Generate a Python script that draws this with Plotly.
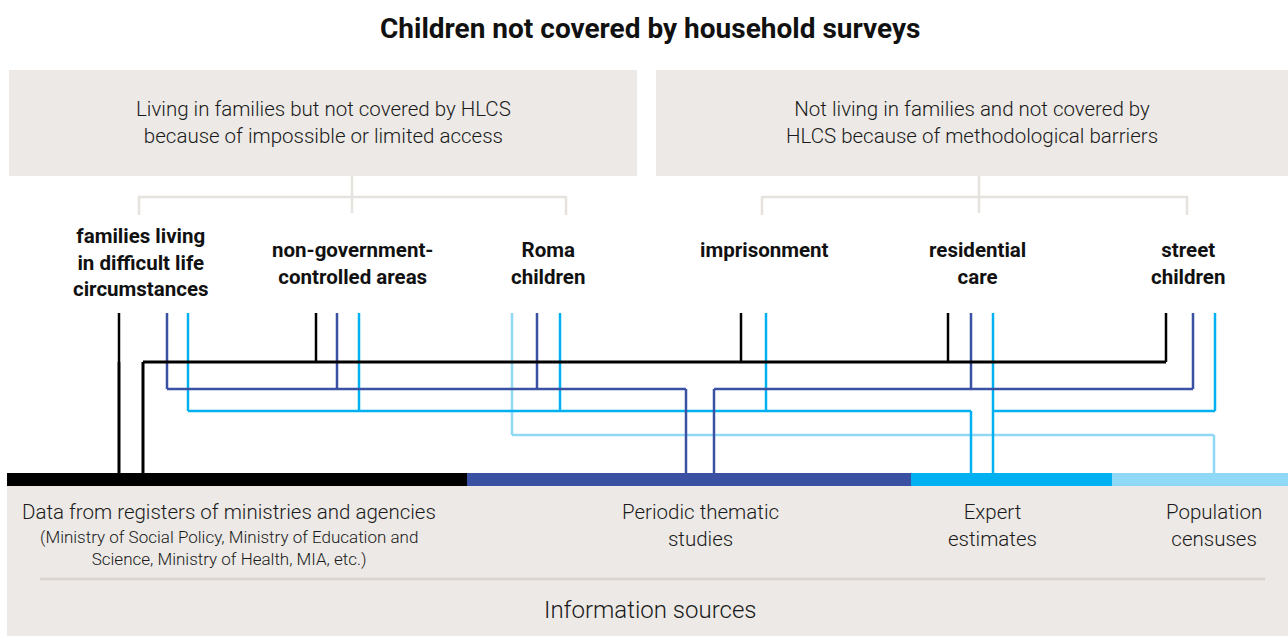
import plotly.graph_objects as go

# ---------------- data ----------------
title = "Children not covered by household surveys"
group_labels = [
    "Living in families but not covered by HLCS<br>because of impossible or limited access",
    "Not living in families and not covered by<br>HLCS because of methodological barriers",
]
categories = [
    "families living<br>in difficult life<br>circumstances",
    "non-government-<br>controlled areas",
    "Roma<br>children",
    "imprisonment",
    "residential<br>care",
    "street<br>children",
]
category_group = [0, 0, 0, 1, 1, 1]
sources = [
    "Data from registers of ministries and agencies",
    "Periodic thematic<br>studies",
    "Expert<br>estimates",
    "Population<br>censuses",
]
source_note = "(Ministry of Social Policy, Ministry of Education and<br>Science, Ministry of Health, MIA, etc.)"
footer = "Information sources"
# which information sources cover each category
links = {0: [0, 1, 2], 1: [0, 1, 2], 2: [3, 1, 2], 3: [0, 2], 4: [0, 1, 2], 5: [0, 1, 2]}
# bundles: (source, categories routed together)
bundles = [(0, [0]), (0, [1, 3, 4, 5]), (1, [0, 1, 2]), (1, [4, 5]),
           (2, [0, 1, 2, 3]), (2, [4, 5]), (3, [2])]

# ---------------- layout config (positions & styles) ----------------
W, H = 1288, 636
src_colors = ["#000000", "#3a50a2", "#00b0f0", "#8fd8f6"]
box_fill = "#ece9e6"
bracket_col = "#e6e2de"
txt = "#1a1a1a"
group_box_x = [(9, 637), (656, 1288)]
group_box_y = (70, 176)
group_stem_x = [352, 979]
group_bracket_ends = [(139, 566), (762, 1187)]
bracket_y, bracket_end_y, stem_end_y = 197, 215, 213
cat_x = [141, 352, 548, 764, 977, 1188]
cat_label_top = [222, 236, 236, 236, 236, 236]
link_x = {(0, 0): 119, (0, 1): 167, (0, 2): 188,
          (1, 0): 316, (1, 1): 337, (1, 2): 359,
          (2, 3): 512, (2, 1): 537, (2, 2): 560,
          (3, 0): 741, (3, 2): 766,
          (4, 0): 948, (4, 1): 971, (4, 2): 993,
          (5, 0): 1166, (5, 1): 1193, (5, 2): 1215}
line_top = 313
bus_y = [362, 389, 411, 435]
bundle_drop_x = [119, 143, 686, 714, 971, 993, 1214]
bar_y = (473, 486)
src_bar_x = [(7, 467), (467, 911), (911, 1112), (1112, 1288)]
src_label_x = [229, 700, 992, 1214]
bottom_box = (7, 486, 1288, 636)

fig = go.Figure()
shapes = []
ann = []

# group boxes
for gi, (x0, x1) in enumerate(group_box_x):
    shapes.append(dict(type="rect", x0=x0, x1=x1, y0=group_box_y[0], y1=group_box_y[1],
                       fillcolor=box_fill, line_width=0, layer="below"))
    ann.append(dict(x=(x0 + x1) / 2, y=122, text=group_labels[gi], showarrow=False,
                    font=dict(family="Roboto", size=20.5, color=txt, weight=300),
                    xanchor="center", yanchor="middle"))
    sx = group_stem_x[gi]
    e0, e1 = group_bracket_ends[gi]
    fig.add_trace(go.Scatter(x=[sx, sx], y=[group_box_y[1], stem_end_y], mode="lines",
                             line=dict(color=bracket_col, width=2.5), hoverinfo="skip"))
    fig.add_trace(go.Scatter(x=[e0, e0, e1, e1], y=[bracket_end_y, bracket_y, bracket_y, bracket_end_y],
                             mode="lines", line=dict(color=bracket_col, width=2.5), hoverinfo="skip"))

# bottom box
shapes.append(dict(type="rect", x0=bottom_box[0], y0=bottom_box[1], x1=bottom_box[2], y1=bottom_box[3],
                   fillcolor=box_fill, line_width=0, layer="below"))
shapes.append(dict(type="line", x0=40, x1=1265, y0=579, y1=579, line=dict(color="#d9d3cd", width=2.5)))

# category labels
for ci, c in enumerate(categories):
    ann.append(dict(x=cat_x[ci], y=cat_label_top[ci], text="<b>" + c + "</b>", showarrow=False,
                    font=dict(family="Roboto", size=20.5, color="#111111"),
                    xanchor="center", yanchor="top"))

# connectors: bundles drawn per source (lightest first)
for order_src in [3, 2, 1, 0]:
    for bi, (s, members) in enumerate(bundles):
        if s != order_src:
            continue
        col = src_colors[s]
        yb = bus_y[s]
        dx = bundle_drop_x[bi]
        for ci in members:
            lx = link_x[(ci, s)]
            fig.add_trace(go.Scatter(x=[lx, lx], y=[line_top, yb], mode="lines",
                                     line=dict(color=col, width=2.5), hoverinfo="skip"))
        xs = [link_x[(ci, s)] for ci in members] + [dx]
        fig.add_trace(go.Scatter(x=[min(xs), max(xs)], y=[yb, yb], mode="lines",
                                 line=dict(color=col, width=2.5 if s else 3), hoverinfo="skip"))
        fig.add_trace(go.Scatter(x=[dx, dx], y=[yb, bar_y[0]], mode="lines",
                                 line=dict(color=col, width=2.5 if s else 3), hoverinfo="skip"))

# source bar & labels
for si, (x0, x1) in enumerate(src_bar_x):
    shapes.append(dict(type="rect", x0=x0, x1=x1, y0=bar_y[0], y1=bar_y[1],
                       fillcolor=src_colors[si], line_width=0, layer="above"))
    ann.append(dict(x=src_label_x[si], y=498, text=sources[si], showarrow=False,
                    font=dict(family="Roboto", size=20.5, color=txt, weight=300),
                    xanchor="center", yanchor="top"))
ann.append(dict(x=src_label_x[0], y=525, text=source_note, showarrow=False,
                font=dict(family="Roboto", size=17, color=txt, weight=300),
                xanchor="center", yanchor="top"))
ann.append(dict(x=650, y=610, text=footer, showarrow=False,
                font=dict(family="Roboto", size=24, color=txt, weight=300),
                xanchor="center", yanchor="middle"))
ann.append(dict(x=650, y=28, text="<b>" + title + "</b>", showarrow=False,
                font=dict(family="Roboto", size=28, color="#111111"),
                xanchor="center", yanchor="middle"))

fig.update_layout(
    width=W, height=H, margin=dict(l=0, r=0, t=0, b=0),
    paper_bgcolor="white", plot_bgcolor="white", showlegend=False,
    xaxis=dict(range=[0, W], visible=False, fixedrange=True),
    yaxis=dict(range=[H, 0], visible=False, fixedrange=True),
    shapes=shapes, annotations=ann,
)
fig.write_html("out.html", config={"displayModeBar": False},
               post_script="document.body.style.margin='0';document.body.style.overflow='hidden';")
